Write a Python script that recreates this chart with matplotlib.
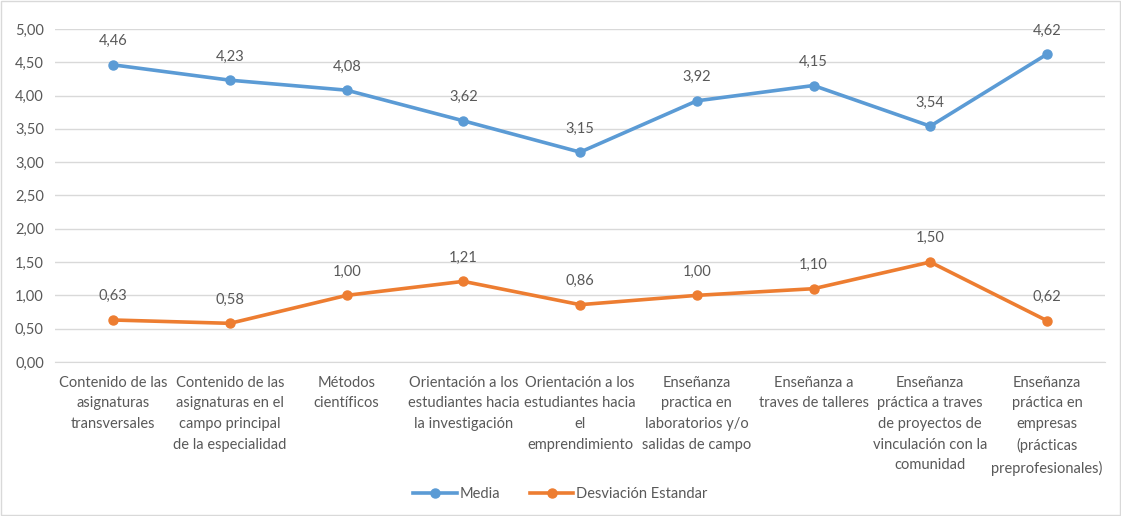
import matplotlib.pyplot as plt
from matplotlib.patches import Rectangle

categorias = [
    "Contenido de las\nasignaturas\ntransversales",
    "Contenido de las\nasignaturas en el\ncampo principal\nde la especialidad",
    "Métodos\ncientíficos",
    "Orientación a los\nestudiantes hacia\nla investigación",
    "Orientación a los\nestudiantes hacia\nel\nemprendimiento",
    "Enseñanza\npractica en\nlaboratorios y/o\nsalidas de campo",
    "Enseñanza a\ntraves de talleres",
    "Enseñanza\npráctica a traves\nde proyectos de\nvinculación con la\ncomunidad",
    "Enseñanza\npráctica en\nempresas\n(prácticas\npreprofesionales)",
]
media = [4.46, 4.23, 4.08, 3.62, 3.15, 3.92, 4.15, 3.54, 4.62]
desviacion = [0.63, 0.58, 1.00, 1.21, 0.86, 1.00, 1.10, 1.50, 0.62]
yticks = [0, 0.5, 1, 1.5, 2, 2.5, 3, 3.5, 4, 4.5, 5]

azul = '#5B9BD5'
naranja = '#ED7D31'
gris = '#595959'

plt.rcParams['font.family'] = ['Lato', 'DejaVu Sans']

fig = plt.figure(figsize=(11.21, 5.16), dpi=100)
ax = fig.add_axes([0.049, 0.2985, 0.937, 0.6455])

x = list(range(len(categorias)))
ax.plot(x, media, color=azul, lw=2.6, marker='o', ms=6.5, label='Media')
ax.plot(x, desviacion, color=naranja, lw=2.6, marker='o', ms=6.5, label='Desviación Estandar')

for xi, v in zip(x, media):
    ax.annotate(f"{v:.2f}".replace('.', ','), (xi, v), xytext=(0, 12), textcoords='offset points',
                ha='center', va='bottom', fontsize=10.5, color=gris)
for xi, v in zip(x, desviacion):
    ax.annotate(f"{v:.2f}".replace('.', ','), (xi, v), xytext=(0, 12), textcoords='offset points',
                ha='center', va='bottom', fontsize=10.5, color=gris)

ax.set_xlim(-0.5, len(categorias) - 0.5)
ax.set_ylim(0, 5)
ax.set_yticks(yticks)
ax.set_yticklabels([f"{t:.2f}".replace('.', ',') for t in yticks], fontsize=10.5, color=gris)
ax.set_xticks(x)
ax.set_xticklabels(categorias, fontsize=10.5, color=gris, linespacing=1.6, va='top')
ax.tick_params(axis='both', length=0)
ax.tick_params(axis='x', pad=10)
ax.tick_params(axis='y', pad=8)
ax.grid(axis='y', color='#D9D9D9', lw=1)
ax.set_axisbelow(True)
for s in ['top', 'right', 'left']:
    ax.spines[s].set_visible(False)
ax.spines['bottom'].set_color('#D9D9D9')

fig.legend(loc='center', bbox_to_anchor=(0.5, 0.042), ncol=2, frameon=False,
           fontsize=10.5, labelcolor=gris, handlelength=3, columnspacing=2.0, handletextpad=0.2)

fig.patches.append(Rectangle((0.001, 0.001), 0.998, 0.997, transform=fig.transFigure,
                             fill=False, edgecolor='#D9D9D9', lw=1))

fig.savefig('out.png', dpi=100)
